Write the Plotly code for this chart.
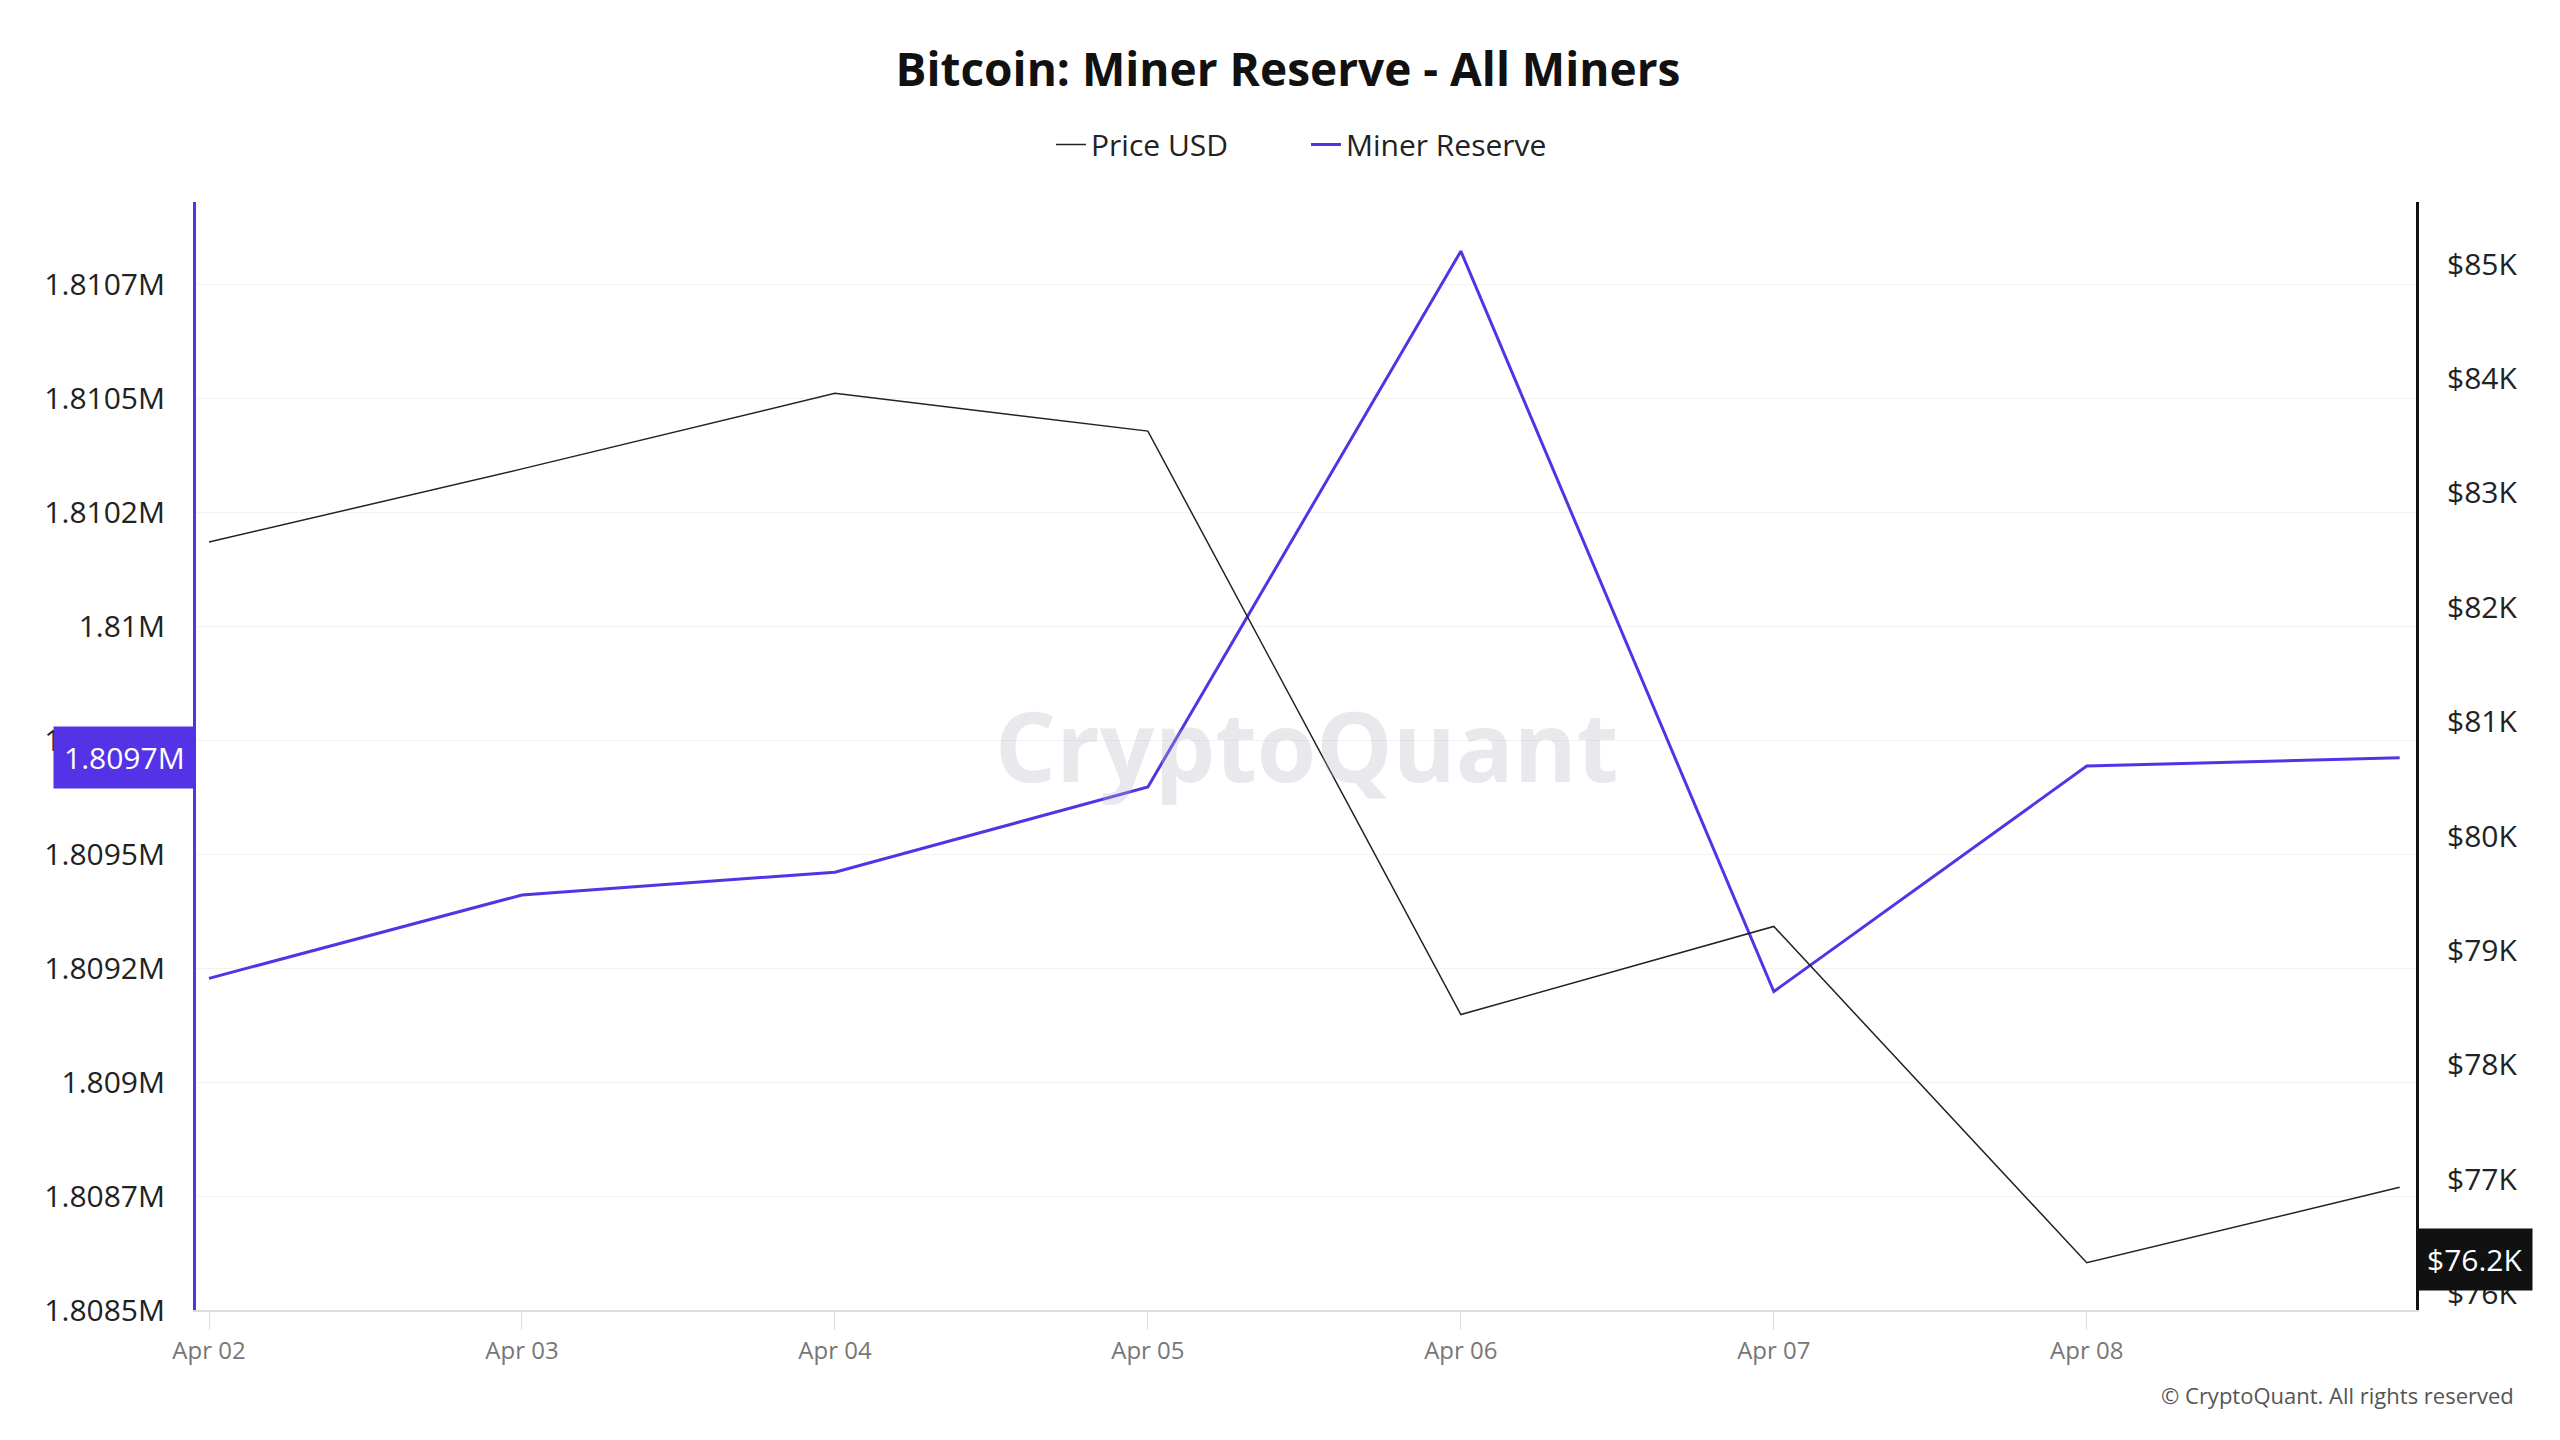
import plotly.graph_objects as go

dates = ["2025-04-02", "2025-04-03", "2025-04-04", "2025-04-05", "2025-04-06",
         "2025-04-07", "2025-04-08", "2025-04-09"]
price_usd = [82570, 83210, 83870, 83540, 78440, 79210, 76270, 76930]
miner_reserve = [1809228, 1809411, 1809461, 1809648, 1810824, 1809199, 1809694, 1809712]

left_ticks = [1808500, 1808750, 1809000, 1809250, 1809500, 1809750, 1810000, 1810250, 1810500, 1810750]
left_labels = ["1.8085M", "1.8087M", "1.809M", "1.8092M", "1.8095M", "1.8097M",
               "1.81M", "1.8102M", "1.8105M", "1.8107M"]
right_ticks = [76000, 77000, 78000, 79000, 80000, 81000, 82000, 83000, 84000, 85000]
right_labels = ["$76K", "$77K", "$78K", "$79K", "$80K", "$81K", "$82K", "$83K", "$84K", "$85K"]
x_ticks = dates[:-1]
x_labels = ["Apr 02", "Apr 03", "Apr 04", "Apr 05", "Apr 06", "Apr 07", "Apr 08"]

PURPLE = "#5433e6"
FONT = "Open Sans"

fig = go.Figure()
fig.add_trace(go.Scatter(x=dates, y=price_usd, name="Price USD", mode="lines",
                         line=dict(color="#222222", width=1.5), yaxis="y2"))
fig.add_trace(go.Scatter(x=dates, y=miner_reserve, name="Miner Reserve", mode="lines",
                         line=dict(color=PURPLE, width=3)))

fig.update_layout(
    width=2560, height=1440,
    paper_bgcolor="white", plot_bgcolor="white",
    font=dict(family=FONT, size=30, color="#222"),
    title=dict(text="<b>Bitcoin: Miner Reserve - All Miners</b>", x=0.5, y=0.957,
               xanchor="center", yanchor="middle", font=dict(size=46, color="#111")),
    legend=dict(orientation="h", x=0.5, xanchor="center", y=1.052, yanchor="middle",
                font=dict(size=30), bgcolor="rgba(0,0,0,0)", entrywidth=210),
    margin=dict(l=188, r=152, t=194, b=138),
    xaxis=dict(range=["2025-04-01 23:00", "2025-04-09 01:15"], tickvals=x_ticks,
               ticktext=x_labels, showgrid=False, showline=True, linecolor="#dddddd",
               linewidth=2, ticks="outside", ticklen=18, tickcolor="#dddddd",
               tickfont=dict(size=24, color="#777")),
    yaxis=dict(range=[1808500, 1810932], tickvals=left_ticks, ticktext=left_labels,
               showgrid=True, gridcolor="#f2f2f2", showline=True, linecolor=PURPLE,
               linewidth=3, zeroline=False, tickfont=dict(size=30, color="#222"),
               ticklabelstandoff=22),
    yaxis2=dict(range=[75857, 85543], tickvals=right_ticks, ticktext=right_labels,
                overlaying="y", side="right", showgrid=False, showline=True,
                linecolor="#111", linewidth=3, zeroline=False,
                tickfont=dict(size=30, color="#222"), ticklabelstandoff=22),
)

fig.add_annotation(text="<b>CryptoQuant</b>", xref="paper", yref="paper", x=0.5, y=0.51,
                   showarrow=False, font=dict(size=96, color="rgba(180,180,195,0.3)"))
fig.add_annotation(text="1.8097M", xref="paper", yref="y", x=0, y=miner_reserve[-1],
                   xanchor="right", showarrow=False, bgcolor=PURPLE,
                   font=dict(size=30, color="white"), borderpad=10)
fig.add_annotation(text="$76.2K", xref="paper", yref="y2", x=1, y=76300,
                   xanchor="left", showarrow=False, bgcolor="#111",
                   font=dict(size=30, color="white"), borderpad=10)
fig.add_annotation(text="© CryptoQuant. All rights reserved", xref="paper", yref="paper",
                   x=1.045, y=-0.092, xanchor="right", showarrow=False,
                   font=dict(size=22, color="#555"))

fig.write_html("out.html")
